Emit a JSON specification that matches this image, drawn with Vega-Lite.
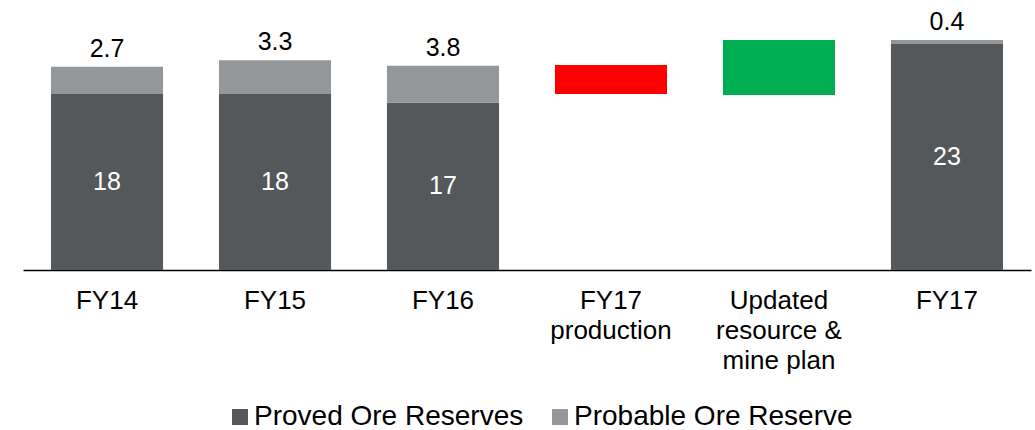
{
  "$schema": "https://vega.github.io/schema/vega-lite/v6.json",
  "width": 1008,
  "height": 255,
  "autosize": {"type": "none"},
  "padding": {"left": 23, "top": 15, "right": 4, "bottom": 160},
  "background": "white",
  "config": {
    "view": {"stroke": null},
    "font": "Liberation Sans",
    "text": {"font": "Liberation Sans"}
  },
  "data": {
    "values": [
      {"category": "FY14", "series": "Proved Ore Reserves", "start": 0, "end": 17.94, "label": "18"},
      {"category": "FY14", "series": "Probable Ore Reserve", "start": 17.94, "end": 20.73, "label": "2.7"},
      {"category": "FY15", "series": "Proved Ore Reserves", "start": 0, "end": 17.94, "label": "18"},
      {"category": "FY15", "series": "Probable Ore Reserve", "start": 17.94, "end": 21.38, "label": "3.3"},
      {"category": "FY16", "series": "Proved Ore Reserves", "start": 0, "end": 17.06, "label": "17"},
      {"category": "FY16", "series": "Probable Ore Reserve", "start": 17.06, "end": 20.83, "label": "3.8"},
      {"category": "FY17|production", "series": "Decrease", "start": 17.94, "end": 20.9, "label": ""},
      {"category": "Updated|resource &|mine plan", "series": "Increase", "start": 17.84, "end": 23.45, "label": ""},
      {"category": "FY17", "series": "Proved Ore Reserves", "start": 0, "end": 23.04, "label": "23"},
      {"category": "FY17", "series": "Probable Ore Reserve", "start": 23.04, "end": 23.45, "label": "0.4"}
    ]
  },
  "encoding": {
    "x": {
      "field": "category",
      "type": "nominal",
      "sort": ["FY14", "FY15", "FY16", "FY17|production", "Updated|resource &|mine plan", "FY17"],
      "scale": {"paddingInner": 0.333, "paddingOuter": 0.1667},
      "axis": {
        "title": null,
        "labelAngle": 0,
        "labelExpr": "split(datum.value, '|')",
        "labelFont": "Liberation Sans",
        "labelFontSize": 26,
        "labelColor": "black",
        "labelLineHeight": 30,
        "labelPadding": 17,
        "ticks": false,
        "domainColor": "black",
        "domainWidth": 1.5
      }
    }
  },
  "layer": [
    {
      "mark": {"type": "bar"},
      "encoding": {
        "y": {"field": "start", "type": "quantitative", "scale": {"domain": [0, 26], "nice": false}, "axis": null},
        "y2": {"field": "end"},
        "color": {
          "field": "series",
          "type": "nominal",
          "scale": {
            "domain": ["Proved Ore Reserves", "Probable Ore Reserve", "Decrease", "Increase"],
            "range": ["#54585B", "#939799", "#FF0000", "#00AD50"]
          },
          "legend": {
            "values": ["Proved Ore Reserves", "Probable Ore Reserve"],
            "title": null,
            "orient": "none",
            "direction": "horizontal",
            "legendX": 203,
            "legendY": 388,
            "symbolType": "square",
            "symbolSize": 256,
            "symbolStrokeWidth": 0,
            "labelFont": "Liberation Sans",
            "labelFontSize": 28,
            "labelColor": "black",
            "labelOffset": 0,
            "columnPadding": 22,
            "labelLimit": 400
          }
        }
      }
    },
    {
      "transform": [{"filter": "datum.series == 'Probable Ore Reserve'"}],
      "mark": {"type": "text", "baseline": "alphabetic", "dy": -10, "fontSize": 25, "color": "black", "font": "Liberation Sans"},
      "encoding": {
        "y": {"field": "end", "type": "quantitative"},
        "text": {"field": "label"}
      }
    },
    {
      "transform": [
        {"filter": "datum.series == 'Proved Ore Reserves'"},
        {"calculate": "(datum.start + datum.end) / 2", "as": "mid"}
      ],
      "mark": {"type": "text", "baseline": "middle", "fontSize": 25, "color": "white", "font": "Liberation Sans"},
      "encoding": {
        "y": {"field": "mid", "type": "quantitative"},
        "text": {"field": "label"}
      }
    }
  ]
}
